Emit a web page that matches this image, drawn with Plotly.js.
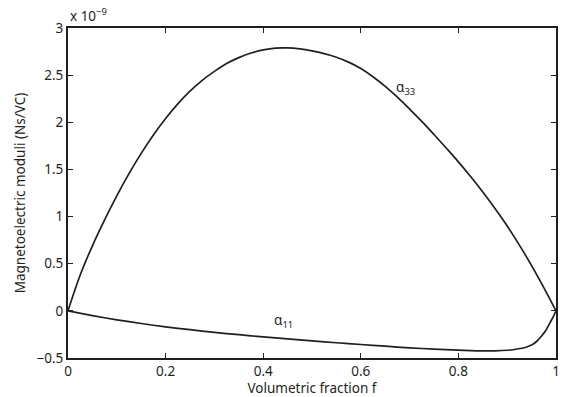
<!DOCTYPE html>
<html>
<head>
<meta charset="utf-8">
<script src="https://cdn.plot.ly/plotly-3.0.1.min.js"></script>
<style>
  body { margin: 0; background: #fff; }
  #me-plot { width: 562px; height: 397px; }
</style>
</head>
<body>
<div id="me-plot"></div>
<script>
// values (y in units of 1e-9 Ns/VC)
const fA33 = [0, 0.025, 0.05, 0.075, 0.1, 0.125, 0.15, 0.175, 0.2, 0.225, 0.25, 0.275, 0.3, 0.325, 0.35, 0.375, 0.4, 0.425, 0.45, 0.475,
  0.5, 0.525, 0.55, 0.575, 0.6, 0.625, 0.65, 0.675, 0.7, 0.725, 0.75, 0.775, 0.8, 0.825, 0.85, 0.875, 0.9, 0.925, 0.95, 0.975, 1];
const alpha33 = [0, 0.38, 0.69, 0.965, 1.22, 1.455, 1.67, 1.865, 2.04, 2.195, 2.33, 2.445, 2.54, 2.623, 2.686, 2.735, 2.768, 2.787, 2.789, 2.778,
  2.757, 2.728, 2.69, 2.638, 2.57, 2.483, 2.38, 2.266, 2.14, 2.009, 1.87, 1.727, 1.58, 1.424, 1.26, 1.085, 0.90, 0.697, 0.48, 0.247, 0];

const fA11 = [0, 0.05, 0.1, 0.15, 0.2, 0.25, 0.3, 0.35, 0.4, 0.45, 0.5, 0.55, 0.6, 0.65, 0.7, 0.75, 0.8, 0.825, 0.85, 0.875,
  0.9, 0.915, 0.93, 0.94, 0.95, 0.96, 0.97, 0.98, 0.99, 0.995, 1];
const alpha11 = [0, -0.05, -0.095, -0.134, -0.17, -0.2, -0.228, -0.253, -0.276, -0.297, -0.318, -0.338, -0.357, -0.375, -0.392, -0.406, -0.417, -0.422, -0.425, -0.424,
  -0.418, -0.41, -0.397, -0.383, -0.363, -0.325, -0.27, -0.2, -0.105, -0.055, 0];

const xTicks = [0, 0.2, 0.4, 0.6, 0.8, 1];
const xTickText = ['0', '0.2', '0.4', '0.6', '0.8', '1'];
const yTicks = [-0.5, 0, 0.5, 1, 1.5, 2, 2.5, 3];
const yTickText = ['\u22120.5', '0', '0.5', '1', '1.5', '2', '2.5', '3'];

const ink = '#231f20';
const fontFam = '"Noto Sans", "DejaVu Sans", sans-serif';
const fsize = 13.5;

function drawPlot() {
  let a33 = { x: fA33, y: alpha33, mode: 'lines', type: 'scatter',
    line: { color: ink, width: 1.7, shape: 'spline', smoothing: 1 }, hoverinfo: 'skip' };
  let a11 = { x: fA11, y: alpha11, mode: 'lines', type: 'scatter',
    line: { color: ink, width: 1.7, shape: 'spline', smoothing: 0.6 }, hoverinfo: 'skip' };

  let axisCommon = {
    showline: true, linecolor: ink, linewidth: 2, mirror: 'ticks',
    ticks: 'inside', ticklen: 5, tickwidth: 1.2, tickcolor: ink,
    showgrid: false, zeroline: false,
    tickfont: { family: fontFam, size: fsize, color: ink },
  };

  let layout = {
    width: 562, height: 397,
    margin: { l: 68, r: 6, t: 28, b: 39 },
    paper_bgcolor: '#fff', plot_bgcolor: '#fff',
    showlegend: false,
    font: { family: fontFam, color: ink },
    xaxis: Object.assign({}, axisCommon, {
      range: [0, 1], tickvals: xTicks, ticktext: xTickText,
      title: { text: 'Volumetric fraction f', font: { family: fontFam, size: fsize, color: ink }, standoff: 0 },
    }),
    yaxis: Object.assign({}, axisCommon, {
      range: [-0.5, 3], tickvals: yTicks, ticktext: yTickText,
      title: { text: 'Magnetoelectric moduli (Ns/VC)', font: { family: fontFam, size: fsize, color: ink }, standoff: 8 },
    }),
    annotations: [
      { xref: 'paper', yref: 'paper', x: 0, y: 1, xanchor: 'left', yanchor: 'bottom', yshift: 1,
        text: 'x 10<sup>\u22129</sup>', showarrow: false, font: { family: fontFam, size: fsize, color: ink } },
      { x: 0.668, y: 2.36, xanchor: 'left', yanchor: 'middle', text: '\u03b1<sub>33</sub>',
        showarrow: false, font: { family: fontFam, size: fsize, color: ink } },
      { x: 0.418, y: -0.11, xanchor: 'left', yanchor: 'middle', text: '\u03b1<sub>11</sub>',
        showarrow: false, font: { family: fontFam, size: fsize, color: ink } },
    ],
  };

  Plotly.newPlot('me-plot', [a33, a11], layout, { staticPlot: true });
}

window.addEventListener('DOMContentLoaded', drawPlot, false);
</script>
</body>
</html>
